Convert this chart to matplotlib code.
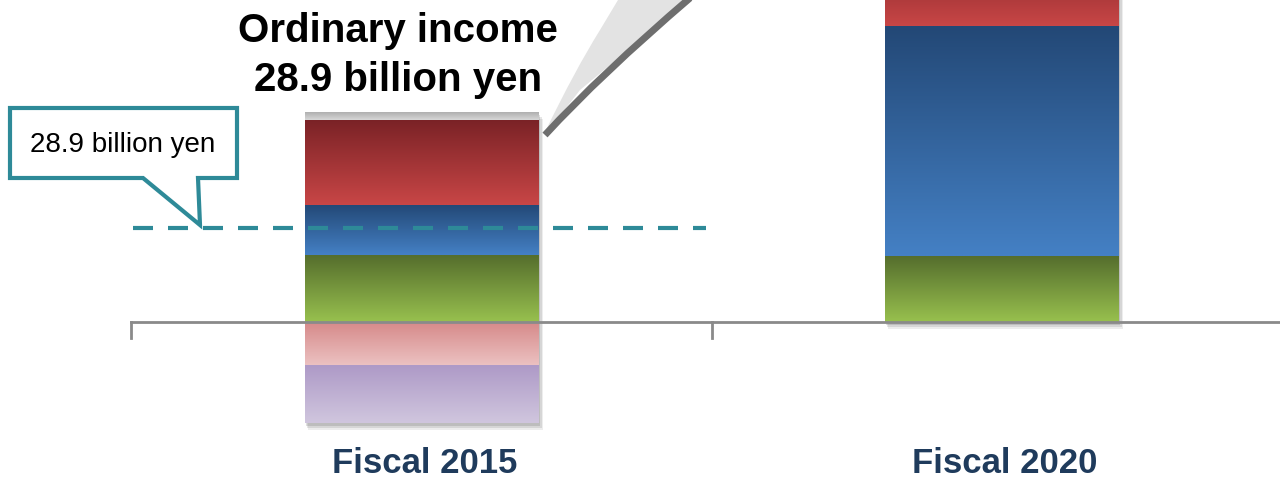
import numpy as np
import matplotlib.pyplot as plt
from matplotlib.patches import Rectangle, Polygon, PathPatch
from matplotlib.path import Path

plt.rcParams['font.family'] = ['Liberation Sans', 'DejaVu Sans']

### data (billion yen)
categories = ['Fiscal 2015', 'Fiscal 2020']
green = [20.6, 20.3]
blue = [15.4, 70.8]
red = [26.2, 26.0]
gray = [2.4, 0.0]
pink = [-13.5, 0.0]
purple = [-17.6, 0.0]
ordinary_income = 28.9

# gradient colours (top, bottom)
grad = {
    'green': ((85, 110, 45), (152, 192, 78)),
    'blue': ((35, 72, 118), (68, 128, 196)),
    'red': ((122, 34, 38), (200, 70, 70)),
    'gray': ((175, 175, 175), (215, 215, 215)),
    'pink': ((214, 138, 138), (236, 194, 194)),
    'purple': ((174, 154, 199), (208, 198, 222)),
}

fig = plt.figure(figsize=(12.8, 4.78), dpi=100)
ax = fig.add_axes([0, 0, 1, 1])
ax.set_xlim(-0.7267, 1.480)
ax.set_ylim(-48.0, 99.1)
ax.axis('off')

x = np.arange(len(categories))
w = 0.402


def grad_bar(xc, bottom, top, name):
    c1, c2 = grad[name]
    t = np.linspace(0, 1, 64)[:, None]
    img = (np.array(c1) * (1 - t) + np.array(c2) * t) / 255.0
    ax.imshow(img[:, None, :], extent=[xc - w / 2, xc + w / 2, bottom, top],
              origin='upper', aspect='auto', zorder=3, interpolation='bilinear')


for i, xc in enumerate(x):
    lo = sum(v for v in (pink[i], purple[i]))
    hi = green[i] + blue[i] + red[i] + gray[i]
    # soft shadow (right and below)
    for k, a in zip([1.0, 0.7, 0.4], [0.10, 0.14, 0.18]):
        ax.add_patch(Rectangle((xc - w / 2 + 0.006 * k, lo - 2.0 * k), w + 0.003 * k,
                               hi - lo, facecolor='#505050', alpha=a, lw=0,
                               zorder=2))
    # positive stack
    b = 0
    for name, vals in [('green', green), ('blue', blue), ('red', red), ('gray', gray)]:
        if vals[i] > 0:
            grad_bar(xc, b, b + vals[i], name)
            b += vals[i]
    # negative stack
    b = 0
    for name, vals in [('pink', pink), ('purple', purple)]:
        if vals[i] < 0:
            grad_bar(xc, b + vals[i], b, name)
            b += vals[i]

# baseline and category ticks
ax.plot([-0.5, 1.48], [0, 0], color='#8a8a8a', lw=2, zorder=4)
for tx in [-0.5, 0.5]:
    ax.plot([tx, tx], [0, -5], color='#8a8a8a', lw=2, zorder=4)

for xc, lab in zip(x, categories):
    ax.text(xc + 0.006, -43.5, lab, ha='center', va='center', fontsize=25,
            fontweight='bold', color='#1f3b5c')

# ordinary income dashed line
ax.plot([-0.497, 0.49], [ordinary_income] * 2, color='#2e8a98', lw=3,
        dashes=(4.8, 3.6), zorder=5)

# headline text
ax.text(-0.04, 82.0, 'Ordinary income\n%.1f billion yen' % ordinary_income,
        ha='center', va='center', fontsize=29, fontweight='bold',
        color='black', linespacing=1.38)

# overlay in pixel space for decorations
ov = fig.add_axes([0, 0, 1, 1], facecolor='none')
ov.set_xlim(0, 1280)
ov.set_ylim(478, 0)
ov.axis('off')

# callout box
callout = [(10, 108), (237, 108), (237, 178), (198, 178), (200, 225),
           (143, 178), (10, 178)]
ov.add_patch(Polygon(callout, closed=True, facecolor='white',
                     edgecolor='#2e8a98', lw=3, joinstyle='miter', zorder=6))
ov.text(123, 145, '%.1f billion yen' % ordinary_income, ha='center',
        va='center', fontsize=20, color='black', zorder=7)

# zoom arc shape
verts = [(545, 132), (575, 70), (600, 30), (618, 0), (690, 0),
         (640, 40), (580, 90), (545, 135), (545, 132)]
codes = [Path.MOVETO, Path.CURVE3, Path.CURVE3, Path.LINETO, Path.LINETO,
         Path.CURVE3, Path.CURVE3, Path.LINETO, Path.CLOSEPOLY]
ov.add_patch(PathPatch(Path(verts, codes), facecolor='#e3e3e3',
                       edgecolor='none', zorder=1))
edge = Path([(690, -2), (600, 75), (545, 135)],
            [Path.MOVETO, Path.CURVE3, Path.CURVE3])
ov.add_patch(PathPatch(edge, facecolor='none', edgecolor='#6e6e6e', lw=5,
                       capstyle='butt', zorder=2))

fig.savefig('out.png', dpi=100)
